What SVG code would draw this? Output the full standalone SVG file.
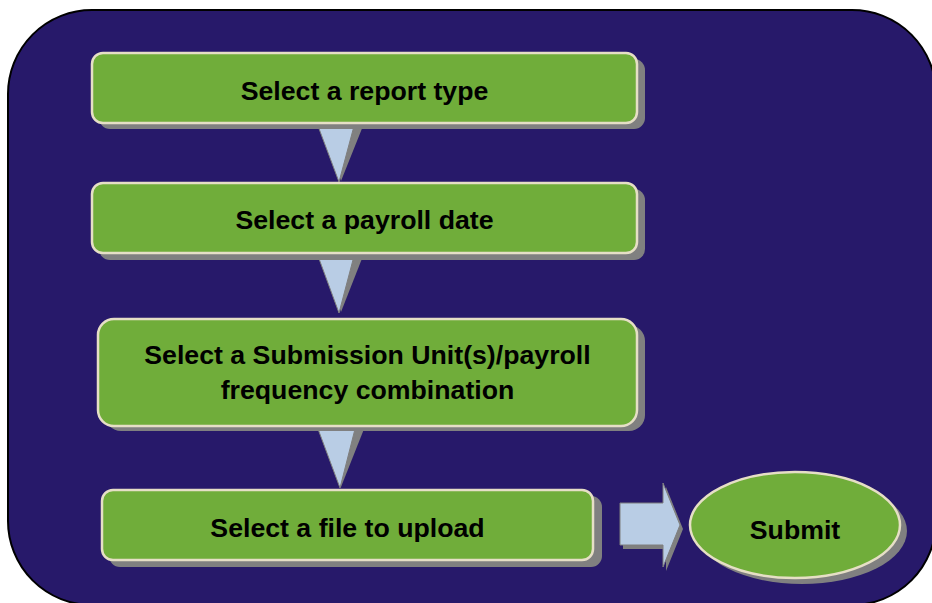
<svg xmlns="http://www.w3.org/2000/svg" width="932" height="603" viewBox="0 0 932 603">
<style>
.bg{fill:#27196a;stroke:#000;stroke-width:2}
.box{fill:#70ad3a;stroke:#e6dfc6;stroke-width:2.5}
.sh{fill:#808080}
.arr{fill:#b9cde5;stroke:#7f7f7f;stroke-width:1}
.t{font-family:"Liberation Sans",Arial,sans-serif;font-weight:bold;font-size:26.7px;fill:#000;text-anchor:middle}
</style>
<rect class="bg" x="8" y="10" width="928" height="595" rx="84" ry="84"/>
<g id="connectors">
  <polygon class="sh" points="325,126 363,126 341,181"/>
  <polygon class="arr" points="318,126 354,126 339,182"/>
  <polygon class="sh" points="325,256 363,256 341,312"/>
  <polygon class="arr" points="318,256 354,256 339,313"/>
  <polygon class="sh" points="325,429 364,429 341,487"/>
  <polygon class="arr" points="318,429 355,429 340,488"/>
  <path class="sh" d="M623,507 L666,507 L666,487 L683,529 L666,571 L666,549 L623,549 Z"/>
  <path class="arr" d="M620,503 L663,503 L663,483 L680,525 L663,567 L663,545 L620,545 Z"/>
</g>
<g id="n1">
  <rect class="sh" x="99" y="59" width="546" height="70" rx="11"/>
  <rect class="box" x="92" y="53" width="545" height="70" rx="11"/>
  <text class="t" x="364.5" y="100">Select a report type</text>
</g>
<g id="n2">
  <rect class="sh" x="99" y="189" width="546" height="71" rx="11"/>
  <rect class="box" x="92" y="183" width="545" height="70" rx="11"/>
  <text class="t" x="364.5" y="229">Select a payroll date</text>
</g>
<g id="n3">
  <rect class="sh" x="105" y="325" width="540" height="106" rx="16"/>
  <rect class="box" x="98" y="319" width="539" height="107" rx="16"/>
  <text class="t" x="367.5" y="364">Select a Submission Unit(s)/payroll</text>
  <text class="t" x="367.5" y="399">frequency combination</text>
</g>
<g id="n4">
  <rect class="sh" x="109" y="496" width="493" height="71" rx="11"/>
  <rect class="box" x="102" y="490" width="491" height="70" rx="11"/>
  <text class="t" x="347.5" y="537">Select a file to upload</text>
</g>
<g id="n5">
  <ellipse class="sh" cx="802" cy="531" rx="105" ry="53"/>
  <ellipse class="box" cx="795" cy="525" rx="105" ry="53"/>
  <text class="t" x="795" y="539">Submit</text>
</g>
</svg>
